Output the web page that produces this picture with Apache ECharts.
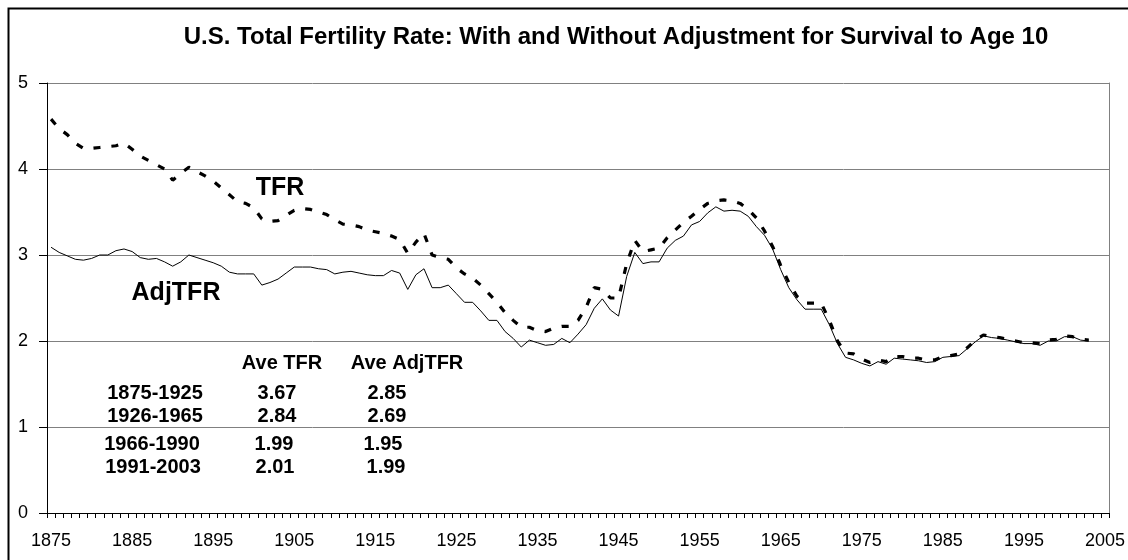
<!DOCTYPE html>
<html>
<head>
<meta charset="utf-8">
<script src="https://cdn.jsdelivr.net/npm/echarts@6/dist/echarts.min.js"></script>
<style>
html,body{margin:0;padding:0;background:#fff;}
#chart{width:1128px;height:560px;}
</style>
</head>
<body>
<div id="chart"></div>
<script>
// ---- data ----
var firstYear = 1875, lastYear = 2005;
var years = [];
for (var y = firstYear; y <= lastYear; y++) years.push(String(y));

var tfr = [
4.58,4.47,4.40,4.30,4.24,4.24,4.25,4.26,4.27,4.30,
4.23,4.15,4.10,4.05,4.00,3.87,3.95,4.02,3.97,3.92,
3.86,3.78,3.70,3.62,3.60,3.55,3.42,3.39,3.40,3.46,
3.52,3.54,3.53,3.50,3.47,3.41,3.36,3.35,3.33,3.29,
3.27,3.25,3.22,3.18,3.02,3.15,3.25,3.00,2.97,2.95,
2.85,2.78,2.73,2.65,2.55,2.45,2.33,2.24,2.16,2.16,
2.12,2.11,2.15,2.17,2.17,2.24,2.39,2.62,2.60,2.50,
2.50,2.90,3.17,3.04,3.06,3.08,3.20,3.29,3.38,3.45,
3.53,3.60,3.63,3.64,3.63,3.60,3.53,3.43,3.28,3.10,
2.88,2.68,2.52,2.44,2.44,2.44,2.24,2.00,1.86,1.85,
1.79,1.75,1.78,1.76,1.82,1.82,1.80,1.80,1.78,1.78,
1.82,1.83,1.85,1.92,2.01,2.07,2.05,2.04,2.02,2.00,
1.98,1.98,1.97,2.01,2.02,2.06,2.05,2.02,2.01
];

var adjTfr = [
3.09,3.03,2.99,2.95,2.94,2.96,3.00,3.00,3.05,3.07,
3.04,2.97,2.95,2.96,2.92,2.87,2.92,3.00,2.97,2.94,
2.91,2.87,2.80,2.78,2.78,2.78,2.65,2.68,2.72,2.79,
2.86,2.86,2.86,2.84,2.83,2.78,2.80,2.81,2.79,2.77,
2.76,2.76,2.82,2.79,2.60,2.77,2.84,2.62,2.62,2.65,
2.55,2.45,2.45,2.35,2.24,2.24,2.11,2.03,1.93,2.01,
1.98,1.95,1.96,2.03,1.98,2.08,2.19,2.38,2.49,2.36,
2.29,2.75,3.03,2.90,2.92,2.92,3.08,3.17,3.22,3.35,
3.39,3.49,3.56,3.51,3.52,3.51,3.45,3.33,3.23,3.07,
2.83,2.62,2.48,2.37,2.37,2.37,2.19,1.97,1.81,1.78,
1.74,1.71,1.76,1.73,1.80,1.79,1.78,1.77,1.75,1.76,
1.81,1.82,1.83,1.91,1.99,2.06,2.04,2.03,2.01,1.99,
1.97,1.97,1.95,2.00,2.00,2.05,2.05,2.01,2.00
];

var tableHeader = ["Ave TFR", "Ave AdjTFR"];
var periods = ["1875-1925", "1926-1965", "1966-1990", "1991-2003"];
var aveTfr = ["3.67", "2.84", "1.99", "2.01"];
var aveAdj = ["2.85", "2.69", "1.95", "1.99"];

var titleText = "U.S. Total Fertility Rate: With and Without Adjustment for Survival to Age 10";

// ---- layout ----
var FONT = "Arial, 'Liberation Sans', sans-serif";
var rowY = [393, 416, 444, 467];
var col1X = [155, 155, 152, 153];
var col2X = [277, 277, 274, 275];
var col3X = [387, 387, 383, 386];

var graphics = [
  {type:'rect', left:6, top:6, shape:{x:0,y:0,width:1200,height:600},
   style:{fill:'none', stroke:'#000', lineWidth:2}, silent:true},
  {type:'text', x:616, y:37, style:{text:titleText, font:"bold 24px " + FONT, fill:'#000', textAlign:'center', textVerticalAlign:'middle'}},
  {type:'text', x:280, y:188, style:{text:'TFR', font:"bold 25px " + FONT, fill:'#000', textAlign:'center', textVerticalAlign:'middle'}},
  {type:'text', x:176, y:293, style:{text:'AdjTFR', font:"bold 25px " + FONT, fill:'#000', textAlign:'center', textVerticalAlign:'middle'}},
  {type:'text', x:282, y:363, style:{text:tableHeader[0], font:"bold 20px " + FONT, fill:'#000', textAlign:'center', textVerticalAlign:'middle'}},
  {type:'text', x:407, y:363, style:{text:tableHeader[1], font:"bold 20px " + FONT, fill:'#000', textAlign:'center', textVerticalAlign:'middle'}}
];
for (var i = 0; i < periods.length; i++) {
  graphics.push({type:'text', x:col1X[i], y:rowY[i], style:{text:periods[i], font:"bold 20px " + FONT, fill:'#000', textAlign:'center', textVerticalAlign:'middle'}});
  graphics.push({type:'text', x:col2X[i], y:rowY[i], style:{text:aveTfr[i], font:"bold 20px " + FONT, fill:'#000', textAlign:'center', textVerticalAlign:'middle'}});
  graphics.push({type:'text', x:col3X[i], y:rowY[i], style:{text:aveAdj[i], font:"bold 20px " + FONT, fill:'#000', textAlign:'center', textVerticalAlign:'middle'}});
}

var chart = echarts.init(document.getElementById('chart'), null, {renderer:'canvas'});
chart.setOption({
  animation: false,
  backgroundColor: '#fff',
  grid: {left: 47, right: 16, top: 83, bottom: 47, containLabel: false},
  xAxis: {
    type: 'category',
    data: years,
    boundaryGap: true,
    axisLine: {show: true, lineStyle: {color: '#000', width: 1}},
    axisTick: {show: true, interval: 0, length: 5, inside: false, lineStyle: {color: '#000', width: 1}},
    axisLabel: {interval: 9, fontSize: 18, color: '#000', fontFamily: FONT, margin: 19},
    splitLine: {show: false}
  },
  yAxis: [{
    type: 'value',
    min: 0, max: 5, interval: 1,
    axisLine: {show: true, lineStyle: {color: '#000', width: 1}},
    axisTick: {show: true, length: 8, lineStyle: {color: '#000'}},
    axisLabel: {fontSize: 18, color: '#000', fontFamily: FONT, margin: 19},
    splitLine: {show: true, lineStyle: {color: '#808080', width: 1}}
  }, {
    type: 'value',
    position: 'right',
    min: 0, max: 5, interval: 1,
    axisLine: {show: true, lineStyle: {color: '#808080', width: 1}},
    axisTick: {show: false},
    axisLabel: {show: false},
    splitLine: {show: false}
  }],
  series: [{
    name: 'TFR',
    type: 'line',
    data: tfr,
    symbol: 'none',
    lineStyle: {color: '#000', width: 3.2, type: [7, 11], cap: 'butt'},
    z: 3
  }, {
    name: 'AdjTFR',
    type: 'line',
    data: adjTfr,
    symbol: 'none',
    lineStyle: {color: '#000', width: 1},
    z: 4
  }],
  graphic: graphics
});
</script>
</body>
</html>
